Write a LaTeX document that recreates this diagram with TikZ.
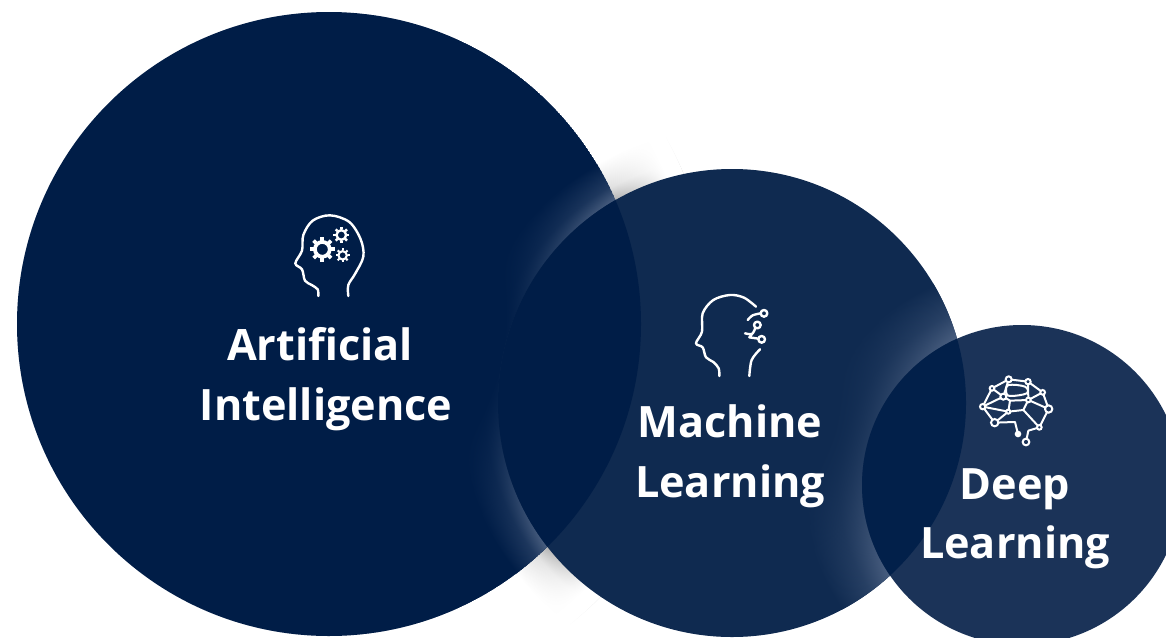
\documentclass[tikz,border=0pt]{standalone}
\usepackage{fontspec}
\setmainfont{Open Sans}
\usetikzlibrary{fadings,calc}
\definecolor{aicol}{HTML}{001D47}
\definecolor{mlcol}{HTML}{0F2A50}
\definecolor{dlcol}{HTML}{1B3358}
\definecolor{ovmd}{HTML}{02204A}
\definecolor{aiglow}{HTML}{4A5F80}
\definecolor{mlglow}{HTML}{4A5F80}
\definecolor{shadowgrey}{HTML}{B4B4B4}
% 25bp is the radius of the filled circle
\pgfdeclareradialshading{mlshadow}{\pgfpoint{0bp}{0bp}}{color(0bp)=(shadowgrey);color(21.3bp)=(shadowgrey);color(22.5bp)=(black!12);color(25bp)=(white);color(50bp)=(white)}
\pgfdeclareradialshading{aiglowring}{\pgfpoint{0bp}{0bp}}{color(0bp)=(aiglow);color(21.3bp)=(aiglow);color(22.6bp)=(aiglow!45!aicol);color(25bp)=(aicol);color(50bp)=(aicol)}
\pgfdeclareradialshading{mlglowring}{\pgfpoint{0bp}{0bp}}{color(0bp)=(mlglow);color(18.2bp)=(mlglow);color(21bp)=(mlglow!45!mlcol);color(25bp)=(mlcol);color(50bp)=(mlcol)}
\pgfdeclareradialshading{coveraishade}{\pgfpoint{0bp}{0bp}}{color(0bp)=(white);color(14bp)=(white);color(25bp)=(black);color(50bp)=(black)}
\pgfdeclareradialshading{covermlshade}{\pgfpoint{0bp}{0bp}}{color(0bp)=(white);color(10.7bp)=(white);color(25bp)=(black);color(50bp)=(black)}
\pgfdeclareradialshading{coverwhiteshade}{\pgfpoint{0bp}{0bp}}{color(0bp)=(black);color(19.5bp)=(black);color(23bp)=(white);color(25bp)=(white);color(50bp)=(white)}
\begin{tikzfadingfrompicture}[name=aicover]
 \shade[shading=coveraishade] (0,0) circle (1cm);
\end{tikzfadingfrompicture}
\begin{tikzfadingfrompicture}[name=mlcover]
 \shade[shading=covermlshade] (0,0) circle (1cm);
\end{tikzfadingfrompicture}
\begin{tikzfadingfrompicture}[name=whitecover]
 \shade[shading=coverwhiteshade] (0,0) circle (1cm);
\end{tikzfadingfrompicture}
\tikzset{
 labeltext/.style={text=white,font=\fontsize{43.2}{60}\selectfont\bfseries,inner sep=0pt,anchor=base},
 iconline/.style={draw=white,line width=2.4pt,line cap=round,line join=round},
 brainline/.style={draw=white,line width=2pt,line cap=round,line join=round},
 brainknot/.style={draw=white,line width=2pt,fill=dlcol},
 iconscope/.style={x=0.3333pt,y=-0.3333pt},
}
\newcommand{\mygear}[3]{%
 \pgfmathsetmacro{\gw}{#3*0.1}
 \draw[draw=white,line width=\gw pt] (#1,#2) circle ({#3*0.6});
 \foreach \a in {0,45,...,315}{\draw[draw=white,line width=\gw pt] ($(#1,#2)+(\a:{#3*0.7})$) -- ($(#1,#2)+(\a:{#3})$);}
}
\begin{document}
\begin{tikzpicture}[x=1pt,y=-1pt]
\useasboundingbox (0,0) rectangle (1166,637);
\fill[white] (0,0) rectangle (1166,637);
\clip (0,0) rectangle (1166,637);
\coordinate (ai) at (329,324);
\coordinate (ml) at (732,403);
\coordinate (dl) at (1022,485);
% soft shadow on the white ground, only close to the big circle
\begin{scope}
 \clip (ai) circle (385);
 \shade[shading=mlshadow] (ml) circle (275);
 \fill[white,path fading=whitecover,fit fading=false,fading transform={shift={(ai)},scale=14.06}] (ai) circle (400);
\end{scope}
% big circle with the glow of the middle circle
\begin{scope}
 \clip (ai) circle (312);
 \fill[aicol] (ai) circle (312);
 \shade[shading=aiglowring] (ml) circle (275);
 \fill[aicol,path fading=aicover,fit fading=false,fading transform={shift={(ai)},scale=10.97}] (ai) circle (312);
\end{scope}
% middle circle with the glow of the small circle
\fill[mlcol] (ml) circle (234);
\begin{scope}
 \clip (ml) circle (234);
 \shade[shading=mlglowring] (dl) circle (220);
 \fill[mlcol,path fading=mlcover,fit fading=false,fading transform={shift={(ml)},scale=8.22}] (ml) circle (234);
\end{scope}
\begin{scope}
 \clip (ai) circle (312);
 \fill[aicol] (ml) circle (234);
\end{scope}
% small circle
\fill[dlcol] (dl) circle (160);
\begin{scope}
 \clip (ml) circle (234);
 \fill[ovmd] (dl) circle (160);
\end{scope}
% labels
\node[labeltext] (t1) at (320,360) {Artificial};
\node[labeltext] (t2) at (326,420) {Intelligence};
\node[labeltext] (t3) at (730,437) {Machine};
\node[labeltext] (t4) at (730,497) {Learning};
\node[labeltext] (t5) at (1015,499) {Deep};
\node[labeltext] (t6) at (1015,558) {Learning};
% icon: head with gears
\begin{scope}[shift={(270,200)},iconscope]
 \draw[iconline] plot[smooth,tension=.55] coordinates {(145,288)(143,268)(125,255)(105,242)(96,208)(76,190)(96,152)(100,105)(128,62)(180,46)(238,66)(272,118)(280,170)(255,222)(235,255)(235,288)};
 \mygear{157}{148}{37}
 \mygear{214}{105}{24}
 \mygear{218}{166}{21}
\end{scope}
% icon: head with circuit
\begin{scope}[shift={(680,280)},iconscope]
 \draw[iconline] plot[smooth,tension=.55] coordinates {(118,288)(116,265)(100,246)(78,232)(68,202)(48,190)(66,155)(68,100)(100,60)(150,45)(192,53)(228,80)};
 \draw[iconline] plot[smooth,tension=.55] coordinates {(240,208)(215,240)(208,288)};
 \draw[iconline] (252,100) circle (10);
 \draw[iconline] (232,135) circle (10);
 \draw[iconline] (245,178) circle (10);
 \draw[iconline] plot[smooth] coordinates {(242,100)(218,106)(203,120)};
 \draw[iconline] plot[smooth] coordinates {(226,144)(216,162)(195,160)};
 \draw[iconline] (235,176) -- (208,172) -- (216,162);
\end{scope}
% icon: brain network
\begin{scope}[shift={(960,360)},iconscope]
 \coordinate (b1) at (146,58);\coordinate (b2) at (204,65);\coordinate (b3) at (248,97);
 \coordinate (b4) at (266,147);\coordinate (b5) at (238,202);\coordinate (b6) at (96,85);
 \coordinate (b7) at (130,110);\coordinate (b8) at (68,140);\coordinate (b9) at (104,188);
 \coordinate (b10) at (205,120);\coordinate (b11) at (145,155);\coordinate (b12) at (174,222);
 \coordinate (b13) at (198,246);\coordinate (b14) at (150,122);\coordinate (b15) at (190,150);
 \draw[brainline] (b8)--(b6)--(b1)--(b2)--(b3)--(b4)--(b5);
 \draw[brainline] (b8)--(b7)--(b1) (b6)--(b7)--(b14)--(b10)--(b15)--(b11)--(b14);
 \draw[brainline] (b2)--(b10)--(b3) (b10)--(b4) (b15)--(b5);
 \draw[brainline] (b8)--(b9)--(b11)--(b8);
 \draw[brainline] (b9)--(165,186)--(b12);
 \draw[brainline] (b5)--(205,212)--(b13);
 \draw[brainline] plot[smooth cycle,tension=.6] coordinates {(146,75)(195,80)(200,100)(150,108)(138,95)};
 \foreach \c/\r in {b1/9,b2/8,b3/7,b4/11,b5/7,b6/7,b7/9,b8/8,b9/11,b10/7,b11/6,b13/10}{\draw[brainknot] (\c) circle (\r);}
 \fill[white] (b12) circle (10);
\end{scope}
\end{tikzpicture}
\end{document}
